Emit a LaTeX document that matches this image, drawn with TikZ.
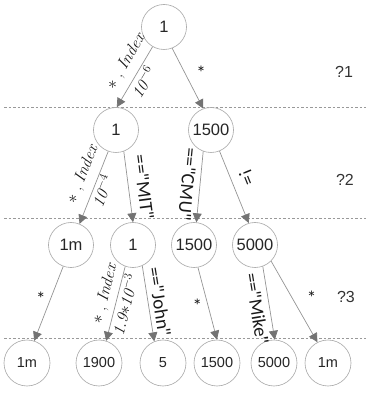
\documentclass[tikz,border=0pt]{standalone}
\usepackage{fontspec}
\newfontfamily\nodefont{Liberation Sans}
\newfontfamily\labfont{Carlito}
\usetikzlibrary{arrows.meta}

\newcommand{\idxlab}{$\ast$ , \textit{Index}}

\begin{document}
\begin{tikzpicture}[x=1pt,y=1pt,
  state/.style={circle, draw=black!35, line width=0.6pt, fill=white,
    minimum size=45pt, inner sep=0pt,
    font=\nodefont\fontsize{16.5}{17}\selectfont, text=black!85},
  leaf/.style={state, minimum size=46pt, font=\nodefont\fontsize{14.5}{15}\selectfont},
  link/.style={draw=black!42, line width=0.7pt,
    -{Triangle[length=9pt,width=9pt,color=black!55,fill=black!55]}},
  lev/.style={draw=black!40, dash pattern=on 2.5pt off 2pt, line width=0.5pt},
  elab/.style={font=\labfont\fontsize{19}{19}\selectfont, inner sep=0.5pt, text=black!90},
  mlab/.style={font=\fontsize{16.5}{17}\selectfont, inner sep=0.5pt, text=black!90},
  qlab/.style={font=\nodefont\fontsize{16}{16}\selectfont, text=black!80},
]
\useasboundingbox (0,0) rectangle (366,394);

% level separators
\coordinate (s1a) at (4,287);  \coordinate (s1b) at (366,287);
\coordinate (s2a) at (4,176);  \coordinate (s2b) at (366,176);
\coordinate (s3a) at (4,56);   \coordinate (s3b) at (366,56);
\draw[lev] (s1a) -- (s1b);
\draw[lev] (s2a) -- (s2b);
\draw[lev] (s3a) -- (s3b);

% tree nodes
\node[state] (r)  at (164,367) {1};
\node[state] (a1) at (116,264) {1};
\node[state] (a2) at (211,264) {1500};
\node[state] (b1) at (71,149)  {1m};
\node[state] (b2) at (133,149) {1};
\node[state] (b3) at (194,149) {1500};
\node[state] (b4) at (255,149) {5000};
\node[leaf]  (c1) at (27,31)   {1m};
\node[leaf]  (c2) at (99,31)   {1900};
\node[leaf]  (c3) at (163,31)  {5};
\node[leaf]  (c4) at (217,31)  {1500};
\node[leaf]  (c5) at (274,31)  {5000};
\node[leaf]  (c6) at (328,31)  {1m};

% level tags
\node[qlab] (q1) at (344,322) {?1};
\node[qlab] (q2) at (345,214) {?2};
\node[qlab] (q3) at (346,97)  {?3};

% edges: root
\draw[link] (r.240) --
  node[mlab, sloped, above=7pt, pos=0.37] {\idxlab}
  node[mlab, sloped, below=1.5pt, pos=0.5] {$\mathit{10}^{-6}$} (a1.88);
\draw[link] (r.291) -- node[elab, right=11pt, pos=0.4] {*} (a2.110);

% edges: second level
\draw[link] (a1.250) --
  node[mlab, sloped, above=7pt, pos=0.39] {\idxlab}
  node[mlab, sloped, below=0.5pt, pos=0.5] {$\mathit{10}^{-4}$} (b1.68);
\draw[link] (a1.290) --
  node[elab, sloped, above=8pt, pos=0.53] {=="MIT"} (b2.90);
\draw[link] (a2.250) --
  node[elab, sloped, allow upside down, below=5pt, pos=0.48] {=="CMU"} (b3.84);
\draw[link] (a2.292) --
  node[elab, sloped, allow upside down, above=8pt, pos=0.45] {!=} (b4.106);

% edges: third level
\draw[link] (b1.250) -- node[elab, left=4pt, pos=0.44] {*} (c1.72);
\draw[link] (b2.250) --
  node[mlab, sloped, above=4.5pt, pos=0.41] {\idxlab}
  node[mlab, sloped, below=0.5pt, pos=0.48] {$\mathit{1.9}{\ast}\mathit{10}^{-3}$} (c2.72);
\draw[link] (b2.294) --
  node[elab, sloped, above=4pt, pos=0.5] {=="John"} (c3.112);
\draw[link] (b3.280) -- node[elab, left=5pt, pos=0.53] {*} (c4.90);
\draw[link] (b4.290) --
  node[elab, sloped, allow upside down, below=5pt, pos=0.55] {=="Mike"} (c5.88);
\draw[link] (b4.315) -- node[elab, right=14pt, pos=0.45] {*} (c6.117);
\end{tikzpicture}
\end{document}
